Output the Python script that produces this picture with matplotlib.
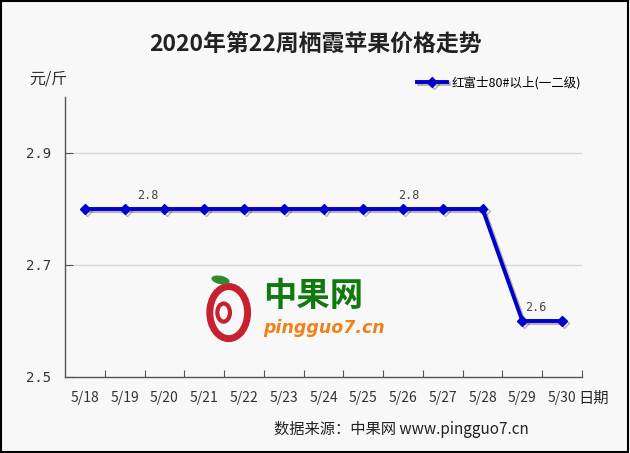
import matplotlib
matplotlib.use('Agg')
import matplotlib.pyplot as plt
import matplotlib.patheffects as pe
from matplotlib.patches import Ellipse, Rectangle

plt.rcParams['font.family'] = ['Noto Sans CJK SC', 'DejaVu Sans']

dates = ['5/18', '5/19', '5/20', '5/21', '5/22', '5/23', '5/24',
         '5/25', '5/26', '5/27', '5/28', '5/29', '5/30']
prices = [2.8, 2.8, 2.8, 2.8, 2.8, 2.8, 2.8, 2.8, 2.8, 2.8, 2.8, 2.6, 2.6]
label_idx = [2, 8, 11]
label_dx = [-12, 4, 10]  # label offsets in points
series_name = '红富士80#以上(一二级)'
yticks = [2.5, 2.7, 2.9]

bg = '#f8f8f8'
fig = plt.figure(figsize=(6.3, 4.53), dpi=100, facecolor=bg)
fig.patches.append(Rectangle((0.002, 0.003), 0.995, 0.994, transform=fig.transFigure,
                             fill=False, edgecolor='black', linewidth=1.5))

ax = fig.add_axes([0.1032, 0.1678, 0.8206, 0.6181], facecolor=bg)
x = list(range(len(dates)))
ax.plot(x, prices, color='#0000cc', linewidth=2.8, marker='D', markersize=5,
        path_effects=[pe.SimpleLineShadow(offset=(1.5, -1.5), shadow_color='#333', alpha=0.35),
                      pe.Normal()], zorder=3, label=series_name)
for i, dx in zip(label_idx, label_dx):
    ax.annotate('%.1f' % prices[i], (x[i], prices[i]), xytext=(dx, 5),
                textcoords='offset points', ha='center', va='bottom',
                fontsize=8.5, color='#444444', family='DejaVu Sans Mono')

ax.set_xlim(-0.5, len(dates) - 0.5)
ax.set_ylim(2.5, 3.0)
ax.set_yticks(yticks)
ax.set_yticklabels(['%.1f' % v for v in yticks], family='DejaVu Sans Mono',
                   fontsize=10, color='#333333')
ax.set_xticks([i + 0.5 for i in x], minor=False)
ax.set_xticklabels([''] * len(x))
ax.set_xticks(x, minor=True)
ax.set_xticklabels(dates, minor=True, fontsize=10, color='#333333')
ax.tick_params(axis='x', which='major', direction='in', length=5, color='#555555')
ax.tick_params(axis='x', which='minor', length=0, pad=10)
ax.tick_params(axis='y', direction='in', length=6, color='#555555', pad=10)
for v in yticks[1:]:
    ax.axhline(v, color='#d8d8d8', linewidth=1, zorder=1)
for s in ['top', 'right']:
    ax.spines[s].set_visible(False)
for s in ['left', 'bottom']:
    ax.spines[s].set_color('#555555')
    ax.spines[s].set_linewidth(1)

leg = ax.legend(loc='upper right', bbox_to_anchor=(1.02, 1.115), frameon=False,
                fontsize=9, handlelength=2.4, handletextpad=0.4)

fig.text(0.5, 0.90, '2020年第22周栖霞苹果价格走势', ha='center', va='center',
         fontsize=16.5, fontweight='bold', color='#222222')
fig.text(0.047, 0.826, '元/斤', ha='left', va='center', fontsize=11.5, color='#333333')
fig.text(0.918, 0.121, '日期', ha='left', va='center', fontsize=11, color='#222222')
fig.text(0.637, 0.052, '数据来源：中果网 www.pingguo7.cn', ha='center', va='center',
         fontsize=11, color='#222222')

# watermark logo
fig.patches.append(Ellipse((0.363, 0.31), 0.06, 0.115, transform=fig.transFigure,
                           fill=False, edgecolor='#c8202e', linewidth=5, zorder=2))
fig.patches.append(Ellipse((0.355, 0.31), 0.02, 0.04, transform=fig.transFigure,
                           fill=False, edgecolor='#c8202e', linewidth=3, zorder=2))
fig.patches.append(Ellipse((0.35, 0.382), 0.03, 0.018, angle=-20, transform=fig.transFigure,
                           facecolor='#2e8b2e', edgecolor='none', zorder=2))
fig.text(0.417, 0.345, '中果网', ha='left', va='center', fontsize=24,
         fontweight='bold', color='#107a10')
fig.text(0.417, 0.275, 'pingguo7.cn', ha='left', va='center', fontsize=12.5,
         fontweight='bold', style='italic', color='#f08018', family='DejaVu Sans')

fig.savefig('out.png', dpi=100, facecolor=bg)
